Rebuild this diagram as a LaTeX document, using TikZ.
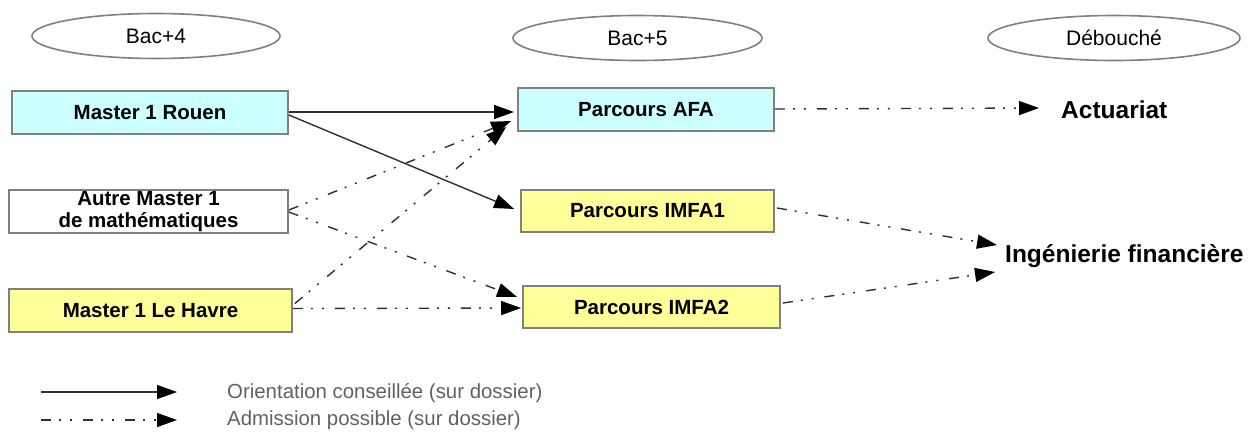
\documentclass[tikz,border=0pt]{standalone}
\usepackage{fontspec}
\setmainfont{Liberation Sans}
\usetikzlibrary{shapes.geometric,arrows.meta}
\definecolor{boxcyan}{HTML}{CCFFFF}
\definecolor{boxyellow}{HTML}{FFFF99}
\definecolor{rimgray}{HTML}{808080}
\definecolor{linegray}{HTML}{303030}
\tikzset{
  hdr/.style={draw=rimgray, line width=1.6pt, ellipse, minimum width=#1, minimum height=45pt, inner sep=0pt, font=\fontsize{21pt}{23pt}\selectfont},
  box/.style={draw=rimgray, line width=1.8pt, rectangle, inner sep=0pt, align=center, font=\fontsize{20.5pt}{21.5pt}\selectfont\bfseries},
  outc/.style={inner sep=0pt, font=\fontsize{24.5pt}{26pt}\selectfont\bfseries},
  legtxt/.style={inner sep=0pt, anchor=west, text=black!62, font=\fontsize{20.4pt}{22pt}\selectfont},
  tip/.style={-{Triangle[length=20pt,width=14pt,color=black]}},
  advised/.style={tip, draw=linegray, line width=1.4pt},
  possible/.style={tip, draw=linegray, line width=1.4pt, dash pattern=on 10pt off 8pt on 2pt off 9pt on 2pt off 11pt},
}
\begin{document}
\begin{tikzpicture}[x=1pt,y=-1pt]
\useasboundingbox (0,0) rectangle (1253,432);
% headers
\node[hdr=248pt] (h4) at (156,36) {Bac+4};
\node[hdr=249pt] (h5) at (637.5,38) {Bac+5};
\node[hdr=252pt] (hd) at (1114,38) {Débouché};
% left boxes
\node[box, fill=boxcyan, minimum width=276pt, minimum height=43pt] (rouen) at (150,112.5) {Master 1 Rouen};
\node[box, fill=white, minimum width=279pt, minimum height=43pt] (autre) at (148.5,211.5) {Autre Master 1\\de mathématiques};
\node[box, fill=boxyellow, minimum width=283pt, minimum height=43pt] (havre) at (150.5,310.5) {Master 1 Le Havre};
% middle boxes
\node[box, fill=boxcyan, minimum width=256pt, minimum height=43pt] (afa) at (646,109.5) {Parcours AFA};
\node[box, fill=boxyellow, minimum width=253pt, minimum height=42pt] (imfa1) at (647.5,211) {Parcours IMFA1};
\node[box, fill=boxyellow, minimum width=257pt, minimum height=42pt] (imfa2) at (651.5,307) {Parcours IMFA2};
% outcomes
\node[outc, anchor=west] (act) at (1061,110) {Actuariat};
\node[outc, anchor=west] (ing) at (1005,256) {Ingénierie financière};
% connectors
\draw[advised] ([shift={(0,-0.5)}]rouen.east) -- ([shift={(-3,2.5)}]afa.west);
\draw[advised] ([shift={(0,2.5)}]rouen.east) -- ([shift={(-6,-2)}]imfa1.west);
\draw[possible] ([shift={(0,-1.5)}]autre.east) -- ([shift={(-6,11.5)}]afa.west);
\draw[possible] ([shift={(0,0.5)}]autre.east) -- ([shift={(-5,-10)}]imfa2.west);
\draw[possible] ([shift={(2,-7)}]havre.east) -- ([shift={(-11,17.5)}]afa.west);
\draw[possible] ([shift={(0,-2)}]havre.east) -- ([shift={(-1,1)}]imfa2.west);
\draw[possible] ([shift={(0,-0.5)}]afa.east) -- ([shift={(-22,-2)}]act.west);
\draw[possible] ([shift={(2,-3)}]imfa1.east) -- ([shift={(-8,-11)}]ing.west);
\draw[possible] ([shift={(2,-4)}]imfa2.east) -- ([shift={(-10,16)}]ing.west);
% legend
\coordinate (l1a) at (41,392);
\coordinate (l1b) at (177,392);
\coordinate (l2a) at (41,420);
\coordinate (l2b) at (177,420);
\draw[advised] (l1a) -- (l1b);
\draw[possible] (l2a) -- (l2b);
\node[legtxt] (t1) at (227,393) {Orientation conseillée (sur dossier)};
\node[legtxt] (t2) at (227,420) {Admission possible (sur dossier)};
\end{tikzpicture}
\end{document}
